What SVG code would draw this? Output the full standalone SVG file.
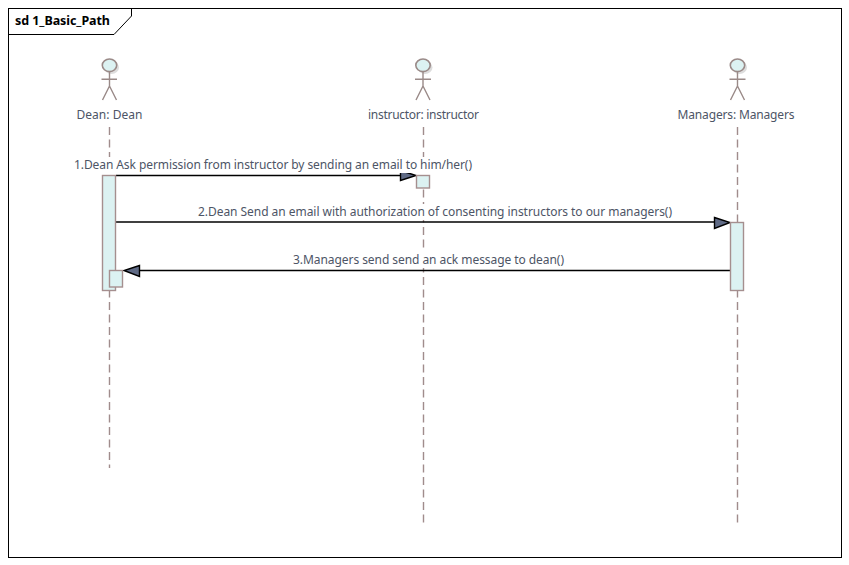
<svg xmlns="http://www.w3.org/2000/svg" width="849" height="565" viewBox="0 0 849 565">
<style>
text{font-family:"Noto Sans","Open Sans","Liberation Sans",sans-serif;font-size:12px;fill:#4d5566}
.c{text-anchor:middle}
.title{font-weight:700;font-size:12.5px;fill:#000}
.frame{fill:none;stroke:#000;stroke-width:1}
.life{stroke:#a08c8c;stroke-width:1.4;stroke-dasharray:8 4.5;fill:none}
.act{fill:#dcf2f2;stroke:#a58f8f;stroke-width:1.4}
.fig{fill:none;stroke:#9a8a88;stroke-width:1.4}
.head{fill:#dcf2f2;stroke:#9a8a88;stroke-width:1.6}
.shadow{fill:#ddd}
.msg{stroke:#000;stroke-width:1.3;fill:none}
.ah{fill:#5f6a85;stroke:#000;stroke-width:1.4;stroke-linejoin:miter}
.mask{fill:#fff}
</style>
<rect width="849" height="565" fill="#fff"/>
<g id="frame">
<rect class="frame" x="8.5" y="8.5" width="833" height="549"/>
<path class="frame" d="M8.5 34.500H114L131.500 16V8.500"/>
<text class="title" x="15" y="25" textLength="95">sd 1_Basic_Path</text>
</g>
<g id="connectors">
<path class="life" d="M109.500 127V468"/>
<path class="life" d="M423.500 127V522.500"/>
<path class="life" d="M737.500 127V522.500"/>
<path class="msg" d="M116 175.500H402"/>
<path class="ah" d="M400.500 170.500L416 175.500L400.500 180.500Z"/>
<path class="msg" d="M116 222H715"/>
<path class="ah" d="M714.500 217.500L730 222.500L714.500 228.500Z"/>
<path class="msg" d="M730 270.500H139"/>
<path class="ah" d="M139.500 265.500L124 270.500L139.500 276.500Z"/>
<rect class="mask" x="74" y="157" width="398" height="16"/>
<rect class="mask" x="198" y="204" width="474" height="16"/>
<rect class="mask" x="293" y="252" width="271" height="16"/>
<text class="c" x="273" y="169" textLength="398">1.Dean Ask permission from instructor by sending an email to him/her()</text>
<text class="c" x="435" y="216" textLength="474">2.Dean Send an email with authorization of consenting instructors to our managers()</text>
<text class="c" x="428.500" y="264" textLength="271">3.Managers send send an ack message to dean()</text>
</g>
<g id="dean">
<ellipse class="shadow" cx="111.500" cy="67.500" rx="7.500" ry="6.500"/>
<ellipse class="head" cx="109.500" cy="65.300" rx="7.200" ry="6.300"/>
<path class="fig" d="M109.500 72V86M101.500 79.300H117M109.500 86L102.500 100M109.500 86L116.500 100"/>
<text class="c" x="109.500" y="119" textLength="66">Dean: Dean</text>
<rect class="act" x="102.500" y="175.500" width="13" height="115"/>
<rect class="act" x="109.500" y="270.500" width="13" height="16.500"/>
</g>
<g id="instructor">
<ellipse class="shadow" cx="425" cy="67.500" rx="7.500" ry="6.500"/>
<ellipse class="head" cx="423" cy="65.300" rx="7.200" ry="6.300"/>
<path class="fig" d="M423 72V86M415 79.300H431M423 86L416 100M423 86L430 100"/>
<text class="c" x="423.500" y="119" textLength="111">instructor: instructor</text>
<rect class="act" x="416.500" y="175.500" width="13" height="12.500"/>
</g>
<g id="managers">
<ellipse class="shadow" cx="739.500" cy="67.500" rx="7.500" ry="6.500"/>
<ellipse class="head" cx="737.500" cy="65.300" rx="7.200" ry="6.300"/>
<path class="fig" d="M737.500 72V86M729.500 79.300H745.500M737.500 86L730.500 100M737.500 86L744.500 100"/>
<text class="c" x="736" y="119" textLength="117">Managers: Managers</text>
<rect class="act" x="730.500" y="222.500" width="13" height="68"/>
</g>
</svg>
